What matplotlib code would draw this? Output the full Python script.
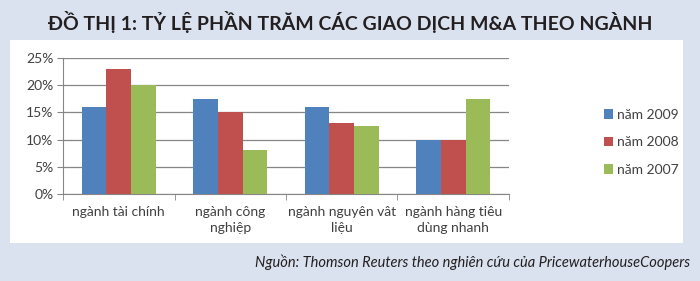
import matplotlib
matplotlib.use("Agg")
import matplotlib.pyplot as plt
from matplotlib.patches import Rectangle
import numpy as np

# -------------------------------------
# Data
# -------------------------------------
categories = ["ngành tài chính", "ngành công\nnghiệp", "ngành nguyên vât\nliệu", "ngành hàng tiêu\ndùng nhanh"]
series_names = ["năm 2009", "năm 2008", "năm 2007"]
v2009 = [16, 17.5, 16, 10]
v2008 = [23, 15, 13, 10]
v2007 = [20, 8, 12.5, 17.5]
colors = ["#4f81bd", "#c0504d", "#9bbb59"]
y_ticks = [0, 5, 10, 15, 20, 25]

title = "ĐỒ THỊ 1: TỶ LỆ PHẦN TRĂM CÁC GIAO DỊCH M&A THEO NGÀNH"
source = "Nguồn: Thomson Reuters theo nghiên cứu của PricewaterhouseCoopers"

W, H = 700, 281
fig = plt.figure(figsize=(W / 100, H / 100), dpi=100)
fig.patch.set_facecolor("#dae2ef")

# white panel behind the chart
fig.patches.append(Rectangle((10 / W, 1 - 243 / H), 673 / W, 203 / H,
                             transform=fig.transFigure, facecolor="white",
                             edgecolor="none", zorder=-5))

head = ["Lato", "DejaVu Sans"]
body = ["Lato", "DejaVu Sans"]

fig.text(350 / W, 1 - 22 / H, title, ha="center", va="center", fontsize=14,
         fontweight="bold", color="#231f20", family=head)
fig.text(690 / W, 1 - 262 / H, source, ha="right", va="center", fontsize=10.5,
         style="italic", color="#231f20", family=head)

ax = fig.add_axes([63 / W, 87 / H, 446 / W, 136 / H], zorder=2)
ax.set_facecolor("none")

x = np.arange(len(categories))
bw = 0.222
for i, (vals, name) in enumerate(zip([v2009, v2008, v2007], series_names)):
    ax.bar(x + (i - 1) * bw, vals, width=bw, color=colors[i], label=name, zorder=3)

ax.set_xlim(-0.5, len(categories) - 0.5)
ax.set_ylim(0, 25)
ax.set_yticks(y_ticks)
ax.set_yticklabels([f"{t}%" for t in y_ticks], family=body, fontsize=10, color="#404040")
ax.yaxis.grid(True, color="#868686", linewidth=0.9, zorder=0)

ax.set_xticks(x)
ax.set_xticklabels(categories, family=body, fontsize=10, color="#404040", linespacing=1.4)
ax.tick_params(axis="x", length=0, pad=9)
ax.set_xticks(np.arange(-0.5, len(categories)), minor=True)
ax.tick_params(axis="x", which="minor", length=4, color="#868686")
ax.tick_params(axis="y", length=4, color="#868686", pad=3)

for s in ["top", "right"]:
    ax.spines[s].set_visible(False)
for s in ["left", "bottom"]:
    ax.spines[s].set_color("#868686")

ax.legend(loc="center left", bbox_to_anchor=(528 / 446, 0.38), frameon=False,
          prop={"family": body, "size": 10}, handlelength=0.7, handleheight=0.7,
          handletextpad=0.3, labelspacing=1.1, labelcolor="#404040")

fig.savefig("out.png", dpi=100, facecolor=fig.get_facecolor())
